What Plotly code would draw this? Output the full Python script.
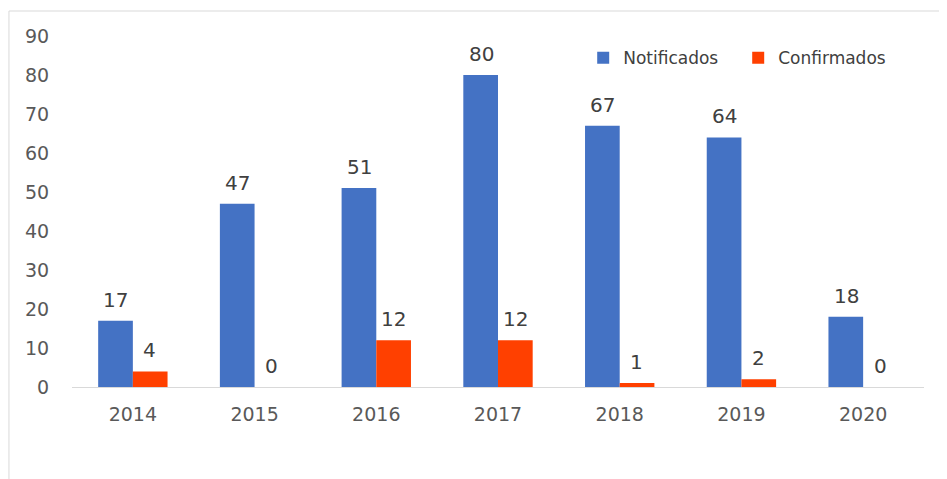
import plotly.graph_objects as go

years = ["2014", "2015", "2016", "2017", "2018", "2019", "2020"]
notificados = [17, 47, 51, 80, 67, 64, 18]
confirmados = [4, 0, 12, 12, 1, 2, 0]
y_ticks = [0, 10, 20, 30, 40, 50, 60, 70, 80, 90]

BLUE = "#4472C4"
ORANGE = "#FF4000"
FONT = "DejaVu Sans"

fig = go.Figure()
fig.add_trace(go.Bar(name="Notificados", x=years, y=notificados,
                     marker=dict(color=BLUE, line=dict(width=0))))
fig.add_trace(go.Bar(name="Confirmados", x=years, y=confirmados,
                     marker=dict(color=ORANGE, line=dict(width=0))))

annotations = []
for series, shift in ((notificados, -17), (confirmados, 17)):
    for i, v in enumerate(series):
        annotations.append(dict(x=i, y=v, xref="x", yref="y", text=str(v),
                                showarrow=False, xshift=shift, yshift=21,
                                yanchor="middle",
                                font=dict(family=FONT, size=20, color="#404040")))

# page body adds an 8px offset; figure is sized to compensate
fig.update_layout(
    width=939, height=471,
    margin=dict(l=64, r=23, t=28, b=92, autoexpand=False),
    paper_bgcolor="white", plot_bgcolor="white",
    barmode="group", bargap=0.43, bargroupgap=0,
    font=dict(family=FONT, color="#595959"),
    showlegend=True,
    legend=dict(orientation="h", x=0.6, y=0.937, xanchor="left", yanchor="middle",
                font=dict(family=FONT, size=17, color="#404040"),
                bgcolor="rgba(0,0,0,0)", entrywidth=110),
    annotations=annotations,
    shapes=[dict(type="rect", xref="paper", yref="paper",
                 x0=-0.074, x1=1.0258, y0=-0.27, y1=1.0712,
                 line=dict(color="#d9d9d9", width=1), layer="below")],
)
fig.update_xaxes(type="category", range=[-0.5, len(years) - 0.5],
                 showline=True, linecolor="#d9d9d9", linewidth=1,
                 showgrid=False, automargin=False,
                 ticks="outside", ticklen=10, tickcolor="rgba(0,0,0,0)",
                 tickfont=dict(family=FONT, size=19, color="#595959"))
fig.update_yaxes(range=[0, 90], tickvals=y_ticks, showgrid=False, zeroline=False,
                 showline=False, ticks="outside", ticklen=18, automargin=False,
                 tickcolor="rgba(0,0,0,0)",
                 tickfont=dict(family=FONT, size=19, color="#595959"))

fig.write_html("out.html")
